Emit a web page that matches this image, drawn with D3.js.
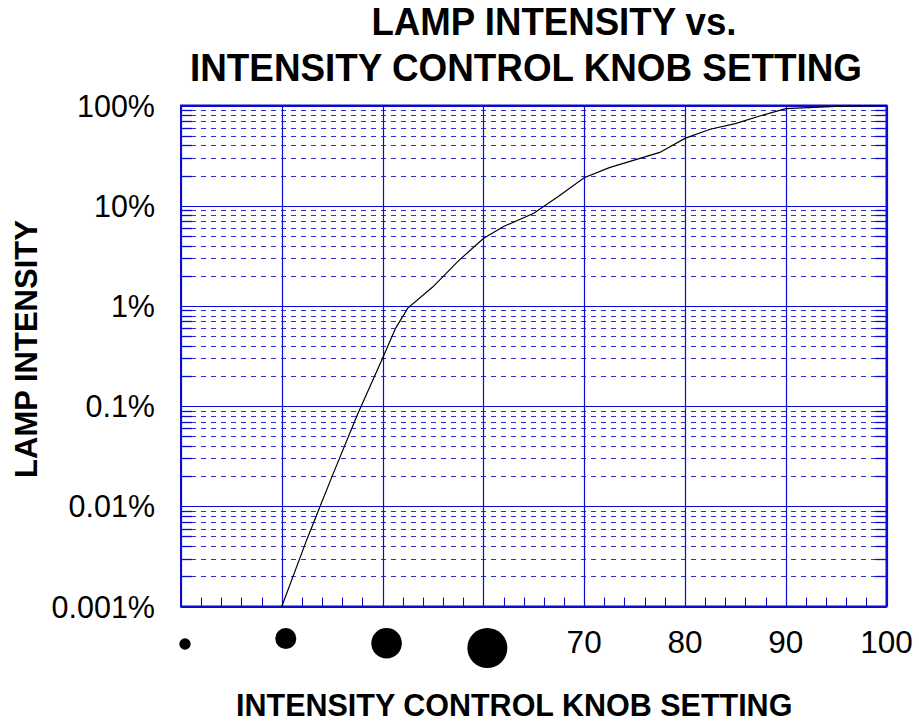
<!DOCTYPE html>
<html>
<head>
<meta charset="utf-8">
<script src="https://cdn.jsdelivr.net/npm/d3@7"></script>
<style>
  html, body { margin: 0; padding: 0; background: #fff; }
  svg { display: block; font-family: "Liberation Sans", Arial, sans-serif; }
</style>
</head>
<body>
<svg id="chart" width="919" height="722"></svg>
<script>
// ---- data ----
const knobSetting = [40, 42.5, 45, 47.5, 50, 51.3, 52.5, 55, 57.5, 60, 62, 65, 67.5, 70, 72.5, 77.5, 80, 82.5, 85, 87.5, 90, 95, 100];
const intensityPct = [0.001, 0.0047, 0.02, 0.082, 0.3, 0.6, 0.95, 1.55, 2.8, 4.7, 6.2, 8.4, 12.5, 19, 24, 34, 47, 58, 66, 79, 93, 98, 100];
const xTickValues = [70, 80, 90, 100];
const xTickLabels = ["70", "80", "90", "100"];
const yTickValues = [0.001, 0.01, 0.1, 1, 10, 100];
const yTickLabels = ["0.001%", "0.01%", "0.1%", "1%", "10%", "100%"];
const knobDotSettings = [30, 40, 50, 60];
const knobDotRadii = [5.7, 10.5, 15.3, 20];
const titleLines = ["LAMP INTENSITY vs.", "INTENSITY CONTROL KNOB SETTING"];
const xTitle = "INTENSITY CONTROL KNOB SETTING";
const yTitle = "LAMP INTENSITY";

// ---- layout ----
const L = 181, R = 886.5, T = 105.5, B = 606.5;
const blue = "#0a0ad2";
const svg = d3.select("#chart");

const x = d3.scaleLinear().domain([30, 100]).range([L, R]);
const y = d3.scaleLog().domain([0.001, 100]).range([B, T]);

// minor horizontal values (2..9 per decade)
const minorY = [];
for (let e = -3; e < 2; e++) for (let k = 2; k <= 9; k++) minorY.push(k * Math.pow(10, e));
const majorX = d3.range(30, 101, 10);
const minorX = d3.range(30, 100, 2).filter(v => v % 10 !== 0);

const g = svg.append("g");

// dashed minor grid
g.append("g").selectAll("line").data(minorY).join("line")
  .attr("x1", L).attr("x2", R)
  .attr("y1", d => Math.round(y(d)) + 0.5).attr("y2", d => Math.round(y(d)) + 0.5)
  .attr("stroke", blue).attr("stroke-width", 1).attr("stroke-dasharray", "5,5")
  .attr("stroke-opacity", 0.85);

// minor ticks on left and right edges
g.append("g").selectAll("line").data(minorY).join("line")
  .attr("x1", L).attr("x2", L + 11)
  .attr("y1", d => Math.round(y(d)) + 0.5).attr("y2", d => Math.round(y(d)) + 0.5)
  .attr("stroke", blue).attr("stroke-width", 1.3);
g.append("g").selectAll("line").data(minorY).join("line")
  .attr("x1", R - 11).attr("x2", R)
  .attr("y1", d => Math.round(y(d)) + 0.5).attr("y2", d => Math.round(y(d)) + 0.5)
  .attr("stroke", blue).attr("stroke-width", 1.3);

// major horizontal grid
g.append("g").selectAll("line").data(yTickValues).join("line")
  .attr("x1", L).attr("x2", R)
  .attr("y1", d => Math.round(y(d)) + 0.5).attr("y2", d => Math.round(y(d)) + 0.5)
  .attr("stroke", blue).attr("stroke-width", 1.2);

// major vertical grid
g.append("g").selectAll("line").data(majorX).join("line")
  .attr("x1", d => Math.round(x(d)) + 0.5).attr("x2", d => Math.round(x(d)) + 0.5)
  .attr("y1", T).attr("y2", B)
  .attr("stroke", blue).attr("stroke-width", 1.2);

// bottom minor ticks
g.append("g").selectAll("line").data(minorX).join("line")
  .attr("x1", d => Math.round(x(d)) + 0.5).attr("x2", d => Math.round(x(d)) + 0.5)
  .attr("y1", B - 9).attr("y2", B)
  .attr("stroke", blue).attr("stroke-width", 1.1);

// frame
g.append("rect").attr("x", L).attr("y", T).attr("width", R - L).attr("height", B - T)
  .attr("fill", "none").attr("stroke", blue).attr("stroke-width", 2);

// curve
const line = d3.line().x((d, i) => x(knobSetting[i])).y((d, i) => y(intensityPct[i]));
g.append("path").datum(intensityPct).attr("d", line)
  .attr("fill", "none").attr("stroke", "#000").attr("stroke-width", 1.2);

// y tick labels
svg.append("g").selectAll("text").data(yTickValues).join("text")
  .attr("x", 155).attr("y", d => y(d) + 11)
  .attr("text-anchor", "end").attr("font-size", 30.5).attr("fill", "#000")
  .text((d, i) => yTickLabels[i]);

// x tick labels
svg.append("g").selectAll("text").data(xTickValues).join("text")
  .attr("x", d => x(d)).attr("y", 653)
  .attr("text-anchor", "middle").attr("font-size", 31.5).attr("fill", "#000")
  .text((d, i) => xTickLabels[i]);

// knob size dots
svg.append("g").selectAll("circle").data(knobDotSettings).join("circle")
  .attr("cx", d => x(d) + 4)
  .attr("cy", (d, i) => i === 0 ? 644 : 628 + knobDotRadii[i])
  .attr("r", (d, i) => knobDotRadii[i])
  .attr("fill", "#000");

// titles
svg.append("text").attr("x", 554).attr("y", 35).attr("text-anchor", "middle")
  .attr("font-size", 38).attr("font-weight", "bold")
  .attr("textLength", 365).attr("lengthAdjust", "spacingAndGlyphs").text(titleLines[0]);
svg.append("text").attr("x", 526).attr("y", 81).attr("text-anchor", "middle")
  .attr("font-size", 38).attr("font-weight", "bold")
  .attr("textLength", 672).attr("lengthAdjust", "spacingAndGlyphs").text(titleLines[1]);

svg.append("text").attr("x", 236).attr("y", 716).attr("text-anchor", "start")
  .attr("font-size", 30.5).attr("font-weight", "bold").text(xTitle);

svg.append("text").attr("transform", "translate(37,349) rotate(-90)")
  .attr("text-anchor", "middle").attr("font-size", 31).attr("font-weight", "bold")
  .text(yTitle);
</script>
</body>
</html>
